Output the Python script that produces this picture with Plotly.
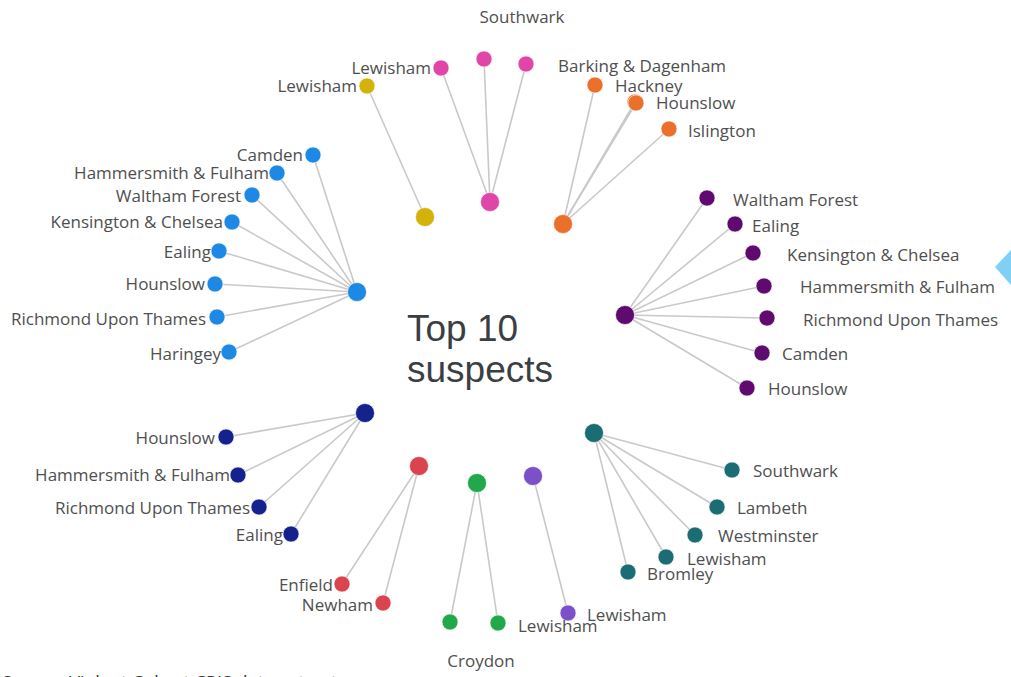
import plotly.graph_objects as go

# ---------------- data ----------------
hub_names = ["Suspect 1", "Suspect 2", "Suspect 3", "Suspect 4", "Suspect 5",
             "Suspect 6", "Suspect 7", "Suspect 8", "Suspect 9", "Suspect 10"]
hub_x = [425, 490, 563, 625, 594, 533, 477, 419, 365, 357]
hub_y = [217, 202, 224, 315, 433, 476, 483, 466, 413, 292]
hub_colors = ["#D5B20A", "#E046A8", "#EA702C", "#5E0A6E", "#1B6D73",
              "#7C50C6", "#22A84B", "#D9444F", "#15228E", "#1E88E5"]

# leaf nodes (boroughs) : parent hub index, position, label
leaf_hub = [0,
            1, 1, 1,
            2, 2, 2, 2,
            3, 3, 3, 3, 3, 3, 3,
            4, 4, 4, 4, 4,
            5,
            6, 6,
            7, 7,
            8, 8, 8, 8,
            9, 9, 9, 9, 9, 9, 9, 9]
leaf_x = [367,
          441, 484, 526,
          595, 635, 636, 669,
          707, 735, 753, 764, 767, 762, 747,
          732, 717, 695, 666, 628,
          568,
          450, 498,
          342, 383,
          226, 238, 259, 291,
          313, 277, 252, 232, 219, 215, 217, 229]
leaf_y = [86,
          68, 59, 64,
          85, 102, 103, 129,
          198, 224, 253, 286, 318, 353, 388,
          470, 507, 535, 557, 572,
          613,
          622, 623,
          584, 603,
          437, 475, 507, 534,
          155, 173, 195, 222, 251, 284, 317, 352]
leaf_names = ["Lewisham",
              "Lewisham", "Southwark", "",
              "Barking & Dagenham", "Hackney", "Hounslow", "Islington",
              "Waltham Forest", "Ealing", "Kensington & Chelsea", "Hammersmith & Fulham",
              "Richmond Upon Thames", "Camden", "Hounslow",
              "Southwark", "Lambeth", "Westminster", "Lewisham", "Bromley",
              "Lewisham",
              "Croydon", "Lewisham",
              "Enfield", "Newham",
              "Hounslow", "Hammersmith & Fulham", "Richmond Upon Thames", "Ealing",
              "Camden", "Hammersmith & Fulham", "Waltham Forest", "Kensington & Chelsea",
              "Ealing", "Hounslow", "Richmond Upon Thames", "Haringey"]
# where each label sits
label_x = [357,
           431, 522, 0,
           558, 615, 656, 688,
           733, 752, 787, 800, 803, 782, 768,
           753, 737, 718, 687, 647,
           587,
           481, 518,
           333, 373,
           215, 230, 250, 283,
           303, 269, 241, 223, 211, 205, 206, 221]
label_y = [88,
           70, 19, 0,
           68, 88, 105, 133,
           202, 228, 257, 289, 322, 356, 391,
           473, 510, 538, 561, 576,
           617,
           663, 628,
           587, 607,
           440, 477, 510, 537,
           157, 175, 198, 224, 254, 286, 321, 356]
label_pos = ["middle left",
             "middle left", "middle center", "middle center",
             "middle right", "middle right", "middle right", "middle right",
             "middle right", "middle right", "middle right", "middle right",
             "middle right", "middle right", "middle right",
             "middle right", "middle right", "middle right", "middle right", "middle right",
             "middle right",
             "middle center", "middle right",
             "middle left", "middle left",
             "middle left", "middle left", "middle left", "middle left",
             "middle left", "middle left", "middle left", "middle left",
             "middle left", "middle left", "middle left", "middle left"]

title_lines = ["Top 10", "suspects"]
source_text = "Source: Violent Cohort CRIS data extract"

W, H = 1011, 677

fig = go.Figure()

# edges
ex, ey = [], []
for h, x, y in zip(leaf_hub, leaf_x, leaf_y):
    ex += [hub_x[h], x, None]
    ey += [hub_y[h], y, None]
fig.add_trace(go.Scatter(x=ex, y=ey, mode="lines",
                         line=dict(color="#C9C9C9", width=1.6),
                         hoverinfo="skip", showlegend=False))

# leaf nodes
fig.add_trace(go.Scatter(
    x=leaf_x, y=leaf_y, mode="markers",
    marker=dict(size=16, color=[hub_colors[h] for h in leaf_hub],
                line=dict(color="rgba(255,255,255,0.6)", width=1)),
    text=leaf_names, hoverinfo="text", showlegend=False))

# hub nodes
fig.add_trace(go.Scatter(
    x=hub_x, y=hub_y, mode="markers",
    marker=dict(size=19, color=hub_colors,
                line=dict(color="rgba(255,255,255,0.6)", width=1)),
    text=hub_names, hoverinfo="text", showlegend=False))

# labels
fig.add_trace(go.Scatter(
    x=label_x, y=label_y, mode="text", text=leaf_names,
    textposition=label_pos,
    textfont=dict(family="Open Sans", size=17, color="#4F4F4F"),
    hoverinfo="skip", showlegend=False))

# centre title
fig.add_annotation(x=405, y=328, xref="x", yref="y", text=title_lines[0],
                   showarrow=False, xanchor="left", yanchor="middle",
                   font=dict(family="Liberation Sans, Arial", size=37, color="#3B3F44"))
fig.add_annotation(x=405, y=369, xref="x", yref="y", text=title_lines[1],
                   showarrow=False, xanchor="left", yanchor="middle",
                   font=dict(family="Liberation Sans, Arial", size=37, color="#3B3F44"))

# source (cut off at the bottom of the picture)
fig.add_annotation(x=0, y=(H - 668) / H, xref="paper", yref="paper", text=source_text,
                   showarrow=False, xanchor="left", yanchor="top",
                   font=dict(family="Open Sans", size=18, color="#333333"))

# light blue side arrow on the right edge
fig.add_shape(type="path", path="M 1011 250 L 995 267 L 1011 285 Z",
              xref="x", yref="y", fillcolor="#7FD0F2", line=dict(width=0))

fig.update_layout(
    width=W, height=H, margin=dict(l=0, r=0, t=0, b=0),
    paper_bgcolor="white", plot_bgcolor="white",
    xaxis=dict(range=[0, W], visible=False, fixedrange=True),
    yaxis=dict(range=[H, 0], visible=False, fixedrange=True),
)

fig.write_html("out.html", config={"displayModeBar": False},
               post_script="document.body.style.margin='0';document.body.style.overflow='hidden';")
